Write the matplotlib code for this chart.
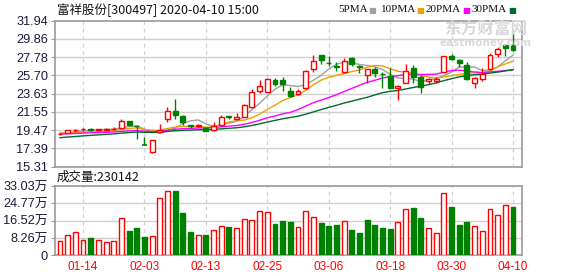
import matplotlib
matplotlib.use('Agg')
import matplotlib.pyplot as plt
import numpy as np
import pandas as pd

plt.rcParams['font.family'] = ['Noto Sans CJK SC', 'DejaVu Sans']

# ---------------- data ----------------
dates = ['01-09', '01-10', '01-13', '01-14', '01-15', '01-16', '01-17', '01-20', '01-21', '01-22', '01-23',
         '02-03', '02-04', '02-05', '02-06', '02-07', '02-10', '02-11', '02-12', '02-13', '02-14', '02-17',
         '02-18', '02-19', '02-20', '02-21', '02-24', '02-25', '02-26', '02-27', '02-28',
         '03-02', '03-03', '03-04', '03-05', '03-06', '03-09', '03-10', '03-11', '03-12', '03-13', '03-16',
         '03-17', '03-18', '03-19', '03-20', '03-23', '03-24', '03-25', '03-26', '03-27', '03-30', '03-31',
         '04-01', '04-02', '04-03', '04-07', '04-08', '04-09', '04-10']

opens = [18.98, 19.12, 19.45, 19.55, 19.60, 19.45, 19.50, 19.55, 19.70, 20.50,
         19.95, 17.72, 16.92, 19.25, 20.71, 21.69, 21.09, 20.00, 19.95, 19.70,
         19.42, 20.10, 21.05, 20.78, 21.01, 22.08, 23.96, 23.85, 25.18, 25.18,
         23.96, 23.59, 24.24, 26.39, 28.02, 27.12, 26.72, 26.12, 27.64, 26.72,
         25.75, 26.39, 25.90, 25.63, 24.27, 24.87, 26.51, 25.49, 25.03, 25.10,
         26.09, 27.90, 27.45, 26.88, 24.87, 25.33, 26.39, 28.10, 29.19, 29.19]
highs = [19.10, 19.52, 19.58, 19.65, 19.65, 19.62, 19.68, 19.85, 20.72, 20.55,
         20.05, 18.65, 18.35, 20.15, 22.08, 23.02, 21.24, 20.10, 20.15, 19.75,
         20.37, 21.20, 21.10, 21.40, 22.45, 24.19, 25.18, 25.35, 25.37, 25.52,
         24.42, 24.19, 26.30, 27.98, 28.02, 27.90, 27.23, 27.64, 27.76, 26.88,
         26.45, 26.69, 26.12, 26.51, 24.55, 26.96, 26.88, 25.75, 25.37, 25.48,
         27.90, 28.10, 27.56, 27.26, 25.56, 26.51, 28.28, 28.96, 29.27, 30.55]
lows = [18.95, 19.10, 19.30, 19.35, 19.35, 19.40, 19.45, 19.45, 19.65, 19.95,
        18.45, 17.70, 16.90, 19.20, 20.37, 20.71, 20.03, 19.65, 19.82, 19.35,
        19.35, 19.95, 20.70, 20.60, 21.00, 22.00, 23.74, 23.80, 24.50, 23.96,
        23.21, 23.50, 24.10, 26.10, 27.00, 26.77, 26.24, 26.01, 26.77, 26.01,
        24.87, 25.49, 24.24, 24.20, 22.90, 24.80, 24.87, 23.67, 24.72, 24.80,
        26.00, 27.45, 26.69, 25.20, 24.30, 25.10, 26.30, 27.83, 27.90, 28.50]
closes = [19.05, 19.50, 19.50, 19.60, 19.45, 19.55, 19.60, 19.62, 20.50, 20.08,
          19.88, 17.70, 18.35, 19.50, 21.69, 21.17, 20.33, 19.90, 20.02, 19.40,
          19.95, 21.01, 20.95, 21.01, 22.30, 23.78, 24.50, 25.26, 24.76, 24.76,
          23.40, 23.96, 26.24, 27.37, 27.45, 27.05, 26.67, 27.37, 26.99, 26.65,
          26.39, 25.94, 25.82, 24.27, 24.50, 26.24, 25.49, 24.35, 25.30, 25.33,
          27.90, 27.53, 27.14, 25.26, 25.41, 25.86, 28.02, 28.67, 28.81, 28.60]
# closes before the visible window (used only for the moving averages)
prior_closes = [17.3, 17.5, 17.6, 17.7, 17.8, 17.9, 18.0, 18.0, 18.1, 18.1,
                18.6, 18.8, 18.7, 18.9, 19.0, 18.9, 19.0, 19.1, 19.0, 19.0,
                19.1, 19.0, 19.2, 19.1, 19.05, 19.1, 19.15, 19.1, 19.15]
# volume in 万 shares
volumes = [6.7, 9.6, 11.0, 7.2, 8.1, 7.2, 6.2, 6.7, 17.7, 11.5,
           12.9, 8.6, 9.1, 27.3, 30.6, 30.6, 20.3, 11.0, 9.6, 9.6,
           12.0, 13.9, 13.4, 13.2, 17.1, 16.6, 20.9, 20.4, 14.8, 16.3,
           15.8, 13.4, 20.9, 18.0, 15.3, 13.9, 14.4, 16.1, 12.0, 10.5,
           16.8, 14.4, 12.9, 12.4, 15.8, 21.9, 22.5, 17.7, 12.8, 10.5,
           29.5, 23.0, 14.4, 15.8, 13.7, 11.5, 21.9, 19.1, 23.9, 23.0142]
# 1 = red (up) volume bar, 0 = green
vol_up = [1, 1, 1, 1, 0, 1, 1, 1, 1, 0,
          0, 0, 1, 1, 1, 0, 0, 0, 1, 0,
          1, 1, 0, 1, 1, 1, 1, 1, 0, 0,
          0, 1, 1, 1, 0, 0, 0, 1, 0, 0,
          0, 0, 0, 0, 1, 1, 0, 0, 1, 1,
          1, 0, 0, 0, 1, 1, 1, 1, 1, 0]
tick_dates = ['01-14', '02-03', '02-13', '02-25', '03-06', '03-18', '03-30', '04-10']
price_ticks = [15.31, 17.39, 19.47, 21.55, 23.63, 25.70, 27.78, 29.86, 31.94]
vol_ticks = [0, 8.26, 16.52, 24.77, 33.03]
vol_tick_labels = ['0', '8.26万', '16.52万', '24.77万', '33.03万']
ma_periods = [5, 10, 20, 30]
ma_colors = ['#A0A0A0', '#F0A000', '#FF00FF', '#006B2E']
ma_names = ['5PMA', '10PMA', '20PMA', '30PMA']
title = '富祥股份[300497] 2020-04-10 15:00'
vol_title = '成交量:230142'

# ---------------- figure ----------------
W, H = 578, 276
fig = plt.figure(figsize=(W / 100, H / 100), dpi=100)
fig.patch.set_facecolor('white')

def frac(l, t, r, b):
    return [l / W, 1 - b / H, (r - l) / W, (b - t) / H]

axp = fig.add_axes(frac(55, 20.5, 522, 166.6))
axv = fig.add_axes(frac(55, 186, 522, 255.2))

n = len(dates)
x = np.arange(n)
o = np.array(opens); c = np.array(closes); hi = np.array(highs); lo = np.array(lows)
up = c >= o
RED = '#FF0000'
GRN = '#008000'
GRID = '#D0D0D0'
SPINE = '#999999'
bw = 0.64

tick_pos = [dates.index(d) for d in tick_dates]

for ax in (axp, axv):
    ax.set_xlim(-0.65, n + 0.17)
    for s in ax.spines.values():
        s.set_color(SPINE)
        s.set_linewidth(1.2)
    ax.set_xticks(tick_pos)
    for tp in tick_pos:
        ax.axvline(tp, color=GRID, lw=0.9, ls=(0, (3, 3)), zorder=0)
    ax.tick_params(axis='y', length=3, color=SPINE, pad=2, labelsize=9.2, labelcolor='#1A1A3A')
    ax.tick_params(axis='x', length=0)

# price panel
axp.set_ylim(price_ticks[0], price_ticks[-1])
axp.set_yticks(price_ticks)
axp.set_yticklabels(['%.2f' % v for v in price_ticks], family=['Liberation Sans', 'DejaVu Sans'])
axp.set_xticklabels([])
for v in price_ticks[1:-1]:
    axp.axhline(v, color=GRID, lw=1.0, zorder=0)

# moving averages
allc = pd.Series(list(prior_closes) + list(closes))
for p, col in zip(ma_periods, ma_colors):
    ma = allc.rolling(p).mean().values[len(prior_closes):]
    axp.plot(x, ma, color=col, lw=1.0, zorder=3)

# candles
for i in range(n):
    col = RED if up[i] else GRN
    top = max(o[i], c[i]); bot = min(o[i], c[i])
    axp.vlines(x[i], top, hi[i], color=col, lw=1.0, zorder=4)
    axp.vlines(x[i], lo[i], bot, color=col, lw=1.0, zorder=4)
    h = top - bot
    if h < 0.04:
        axp.hlines(top, x[i] - bw / 2, x[i] + bw / 2, color=col, lw=1.2, zorder=5)
    else:
        axp.bar(x[i], h, bottom=bot, width=bw, facecolor='white' if up[i] else GRN,
                edgecolor=col, linewidth=1.0, zorder=5)

# volume panel
axv.set_ylim(vol_ticks[0], vol_ticks[-1])
axv.set_yticks(vol_ticks)
axv.set_yticklabels(vol_tick_labels, family=['Liberation Sans', 'Noto Sans CJK SC'])
for v in vol_ticks[1:-1]:
    axv.axhline(v, color=GRID, lw=1.0, zorder=0)
vu = np.array(vol_up) == 1
axv.bar(x[vu], np.array(volumes)[vu], width=bw, facecolor='white', edgecolor=RED, linewidth=1.0, zorder=3)
axv.bar(x[~vu], np.array(volumes)[~vu], width=bw, facecolor=GRN, edgecolor=GRN, linewidth=1.0, zorder=3)
axv.set_xticklabels(tick_dates, color=RED, fontsize=8.5, family=['Liberation Sans', 'DejaVu Sans'])
axv.tick_params(axis='x', pad=4)

# texts
fig.text(57 / W, 1 - 10 / H, title, fontsize=9, va='center', ha='left', color='#111111')
fig.text(57 / W, 1 - 177.5 / H, vol_title, fontsize=9, va='center', ha='left', color='#111111')

# legend
lx = [338, 381, 426, 472]
sx = [368, 416, 462, 508]
for name, col, a, b in zip(ma_names, ma_colors, lx, sx):
    fig.text(a / W, 1 - 10 / H, name, fontsize=8, va='center', ha='left', color='#111111',
             family=['Liberation Serif', 'DejaVu Serif'])
    fig.text(b / W, 1 - 10 / H, '■', fontsize=6, va='center', ha='left', color=col,
             family=['DejaVu Sans'])

# watermark
fig.text(486 / W, 1 - 30 / H, '东方财富网', fontsize=12, va='center', ha='center', color='#D8D8D8',
         weight='bold', zorder=0)
fig.text(486 / W, 1 - 43 / H, 'eastmoney.com', fontsize=7.5, va='center', ha='center', color='#D8D8D8',
         weight='bold', family=['DejaVu Sans'], zorder=0)

fig.savefig('out.png', dpi=100, facecolor='white')
